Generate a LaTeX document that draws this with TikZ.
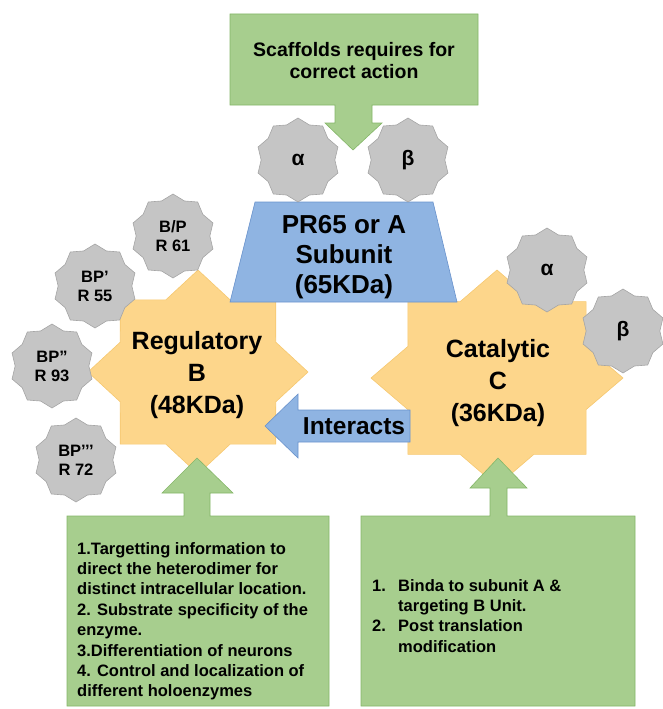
\documentclass[tikz,border=0pt]{standalone}
\usepackage{fontspec}
\setmainfont{Liberation Sans}
\usetikzlibrary{shapes.geometric}
\definecolor{orangefill}{RGB}{253,214,139}
\definecolor{orangeline}{RGB}{246,200,112}
\definecolor{bluefill}{RGB}{143,180,226}
\definecolor{blueline}{RGB}{105,146,204}
\definecolor{greenfill}{RGB}{167,206,142}
\definecolor{greenline}{RGB}{132,182,104}
\definecolor{greyfill}{RGB}{197,197,197}
\definecolor{greyline}{RGB}{165,165,165}
\tikzset{
  orangestar/.style={fill=orangefill, draw=orangeline, line width=0.6pt},
  greystar/.style={star, star points=10, star point ratio=1.14, minimum size=84pt, inner sep=0pt,
    fill=greyfill, draw=greyline, line width=0.6pt, align=center, font=\fontsize{16.5}{19}\selectfont\bfseries},
  greekstar/.style={greystar, font=\fontsize{21}{24}\selectfont\bfseries},
  bluebox/.style={fill=bluefill, draw=blueline, line width=0.6pt},
  greenbox/.style={fill=greenfill, draw=greenline, line width=0.6pt},
  bigtext/.style={align=center, inner sep=0pt, font=\fontsize{25}{32}\selectfont\bfseries},
  listtext/.style={align=left, anchor=north west, inner sep=0pt, font=\fontsize{16.5}{20.4}\selectfont\bfseries}
}
% 8-point star drawn round a centre with its own x and y radius
\newcommand{\orangeblob}[4]{%
  \path[orangestar] plot[domain=0:15, samples=16, variable=\k]
    ({#1+#3*(1-0.235*mod(round(\k),2))*cos(90+22.5*\k)},
     {#2+#4*(1-0.235*mod(round(\k),2))*sin(90+22.5*\k)}) -- cycle;}

\begin{document}
\begin{tikzpicture}[x=1pt, y=-1pt]
\useasboundingbox (0,0) rectangle (663,709);

\orangeblob{198}{372}{110}{102}
\orangeblob{497}{378}{126}{108}

\path[bluebox] (255,202) -- (433,202) -- (457,302) -- (230,302) -- cycle;
\path[bluebox] (265,426) -- (298,394) -- (298,410) -- (410,410) -- (410,442) -- (298,442) -- (298,458) -- cycle;

\path[greenbox] (230,14) -- (478,14) -- (478,105) -- (372,105) -- (372,123) -- (382,123)
  -- (353,150) -- (325,123) -- (335,123) -- (335,105) -- (230,105) -- cycle;
\path[greenbox] (67,516) -- (184,516) -- (184,493) -- (162,493) -- (197,458) -- (233,493)
  -- (210,493) -- (210,516) -- (329,516) -- (329,706) -- (67,706) -- cycle;
\path[greenbox] (361,516) -- (490,516) -- (490,488) -- (470,488) -- (498,458) -- (527,488)
  -- (507,488) -- (507,516) -- (635,516) -- (635,706) -- (361,706) -- cycle;

\node[greystar] (bp) at (173,236) {B/P\\R 61};
\node[greystar] (bp1) at (95,286) {BP’\\R 55};
\node[greystar] (bp2) at (52,366) {BP”\\R 93};
\node[greystar] (bp3) at (76,460) {BP’’’\\R 72};
\node[greekstar] (alphaA) at (298,160) {α};
\node[greekstar] (betaA) at (408,160) {β};
\node[greekstar] (alphaC) at (547,270) {α};
\node[greekstar] (betaC) at (623,331) {β};

\node[bigtext, font=\fontsize{19.5}{22}\selectfont\bfseries] (scaffold) at (354,61) {Scaffolds requires for\\correct action};
\node[bigtext, font=\fontsize{26}{30}\selectfont\bfseries] (subA) at (344,257) {PR65 or A\\Subunit\\(65KDa)};
\node[bigtext] (regB) at (197,375) {Regulatory\\B\\(48KDa)};
\node[bigtext] (catC) at (498,383) {Catalytic\\C\\(36KDa)};
\node[bigtext, font=\fontsize{24.5}{26}\selectfont\bfseries] (interacts) at (354,426) {Interacts};

\node[listtext] (regroles) at (77,542) {1.Targetting information to\\direct the heterodimer for\\distinct intracellular location.\\2. Substrate specificity of the\\enzyme.\\3.Differentiation of neurons\\4. Control and localization of\\different holoenzymes};
\node[listtext] (catroles) at (372,579) {\makebox[26pt][l]{1.}Binda to subunit A \&\\\hspace*{26pt}targeting B Unit.\\\makebox[26pt][l]{2.}Post translation\\\hspace*{26pt}modification};
\end{tikzpicture}
\end{document}
